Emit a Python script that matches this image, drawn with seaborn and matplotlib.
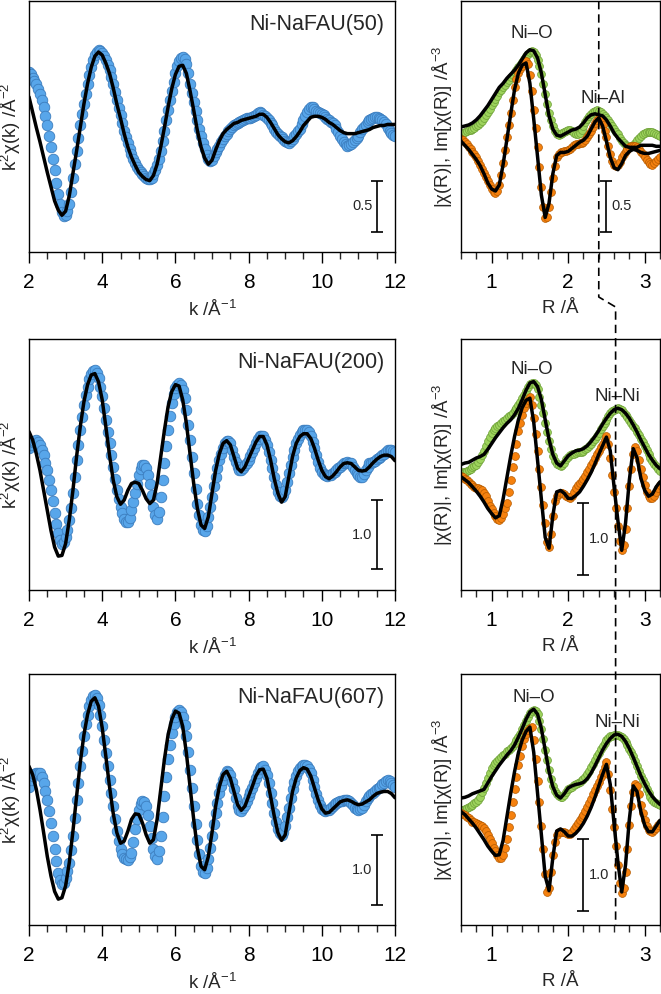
import numpy as np
import pandas as pd
import matplotlib
matplotlib.use("Agg")
import matplotlib.pyplot as plt
from matplotlib.ticker import MultipleLocator
from matplotlib.lines import Line2D
from matplotlib.transforms import blended_transform_factory
import seaborn as sns

# sampling grids: data points are denser than the fit curves
k_pts = np.round(np.arange(2.0, 12.001, 0.05), 3)
k_fit = np.round(np.arange(2.0, 12.001, 0.1), 2)
r_pts = np.round(np.arange(0.6, 3.2001, 0.025), 3)
r_fit = np.round(np.arange(0.6, 3.2001, 0.05), 2)

samples = ["Ni-NaFAU(50)", "Ni-NaFAU(200)", "Ni-NaFAU(607)"]
second_shell = ["Ni–Al", "Ni–Ni", "Ni–Ni"]
bar_size = [0.5, 1.0, 1.0]

# ---- k^2 chi(k): measured points ----
k_data_50 = [0.52, 0.50, 0.47, 0.44, 0.41, 0.36, 0.31, 0.25, 0.18, 0.09,
             0.00, -0.10, -0.21, -0.33, -0.44, -0.56, -0.67, -0.77, -0.85, -0.89,
             -0.88, -0.84, -0.77, -0.65, -0.51, -0.38, -0.25, -0.12, 0.00, 0.11,
             0.21, 0.31, 0.41, 0.49, 0.57, 0.64, 0.69, 0.72, 0.74, 0.73,
             0.71, 0.68, 0.64, 0.59, 0.54, 0.48, 0.41, 0.33, 0.25, 0.17,
             0.10, 0.02, -0.05, -0.11, -0.17, -0.23, -0.28, -0.33, -0.37, -0.41,
             -0.44, -0.46, -0.48, -0.50, -0.51, -0.52, -0.52, -0.51, -0.48, -0.44,
             -0.39, -0.33, -0.25, -0.15, -0.05, 0.05, 0.15, 0.25, 0.34, 0.43,
             0.51, 0.58, 0.63, 0.66, 0.67, 0.65, 0.60, 0.51, 0.41, 0.32,
             0.23, 0.14, 0.05, -0.03, -0.10, -0.17, -0.23, -0.29, -0.33, -0.35,
             -0.34, -0.30, -0.26, -0.23, -0.20, -0.16, -0.13, -0.10, -0.08, -0.05,
             -0.03, -0.01, 0.00, 0.01, 0.02, 0.03, 0.04, 0.05, 0.06, 0.07,
             0.07, 0.07, 0.08, 0.09, 0.10, 0.12, 0.13, 0.12, 0.10, 0.09,
             0.07, 0.05, 0.02, 0.00, -0.03, -0.06, -0.08, -0.10, -0.11, -0.13,
             -0.15, -0.16, -0.17, -0.15, -0.13, -0.10, -0.08, -0.05, -0.03, 0.01,
             0.05, 0.09, 0.13, 0.16, 0.18, 0.18, 0.16, 0.14, 0.13, 0.12,
             0.11, 0.10, 0.08, 0.06, 0.05, 0.03, 0.02, 0.00, -0.03, -0.06,
             -0.10, -0.13, -0.16, -0.18, -0.20, -0.19, -0.18, -0.16, -0.14, -0.12,
             -0.10, -0.06, -0.03, -0.01, 0.00, 0.03, 0.05, 0.06, 0.07, 0.08,
             0.08, 0.07, 0.06, 0.05, 0.03, 0.01, -0.02, -0.05, -0.07, -0.09,
             -0.10]
k_data_200 = [0.22, 0.27, 0.31, 0.33, 0.34, 0.31, 0.27, 0.20, 0.12, 0.01,
              -0.10, -0.24, -0.39, -0.55, -0.72, -0.87, -1.01, -1.10, -1.16, -1.14,
              -1.06, -0.96, -0.82, -0.64, -0.43, -0.19, 0.05, 0.27, 0.48, 0.67,
              0.85, 0.99, 1.11, 1.22, 1.30, 1.34, 1.35, 1.31, 1.23, 1.11,
              0.97, 0.80, 0.63, 0.46, 0.29, 0.12, -0.05, -0.22, -0.39, -0.52,
              -0.63, -0.72, -0.80, -0.84, -0.85, -0.79, -0.68, -0.56, -0.43, -0.30,
              -0.17, -0.08, -0.02, -0.02, -0.07, -0.16, -0.29, -0.46, -0.63, -0.75,
              -0.80, -0.70, -0.48, -0.24, 0.00, 0.25, 0.48, 0.69, 0.87, 1.00,
              1.09, 1.14, 1.16, 1.13, 1.06, 0.94, 0.77, 0.56, 0.34, 0.10,
              -0.14, -0.37, -0.58, -0.75, -0.89, -0.96, -0.97, -0.90, -0.77, -0.63,
              -0.48, -0.33, -0.19, -0.06, 0.05, 0.14, 0.22, 0.29, 0.33, 0.33,
              0.29, 0.20, 0.10, 0.02, -0.05, -0.09, -0.10, -0.07, -0.02, 0.01,
              0.05, 0.11, 0.17, 0.23, 0.29, 0.35, 0.39, 0.40, 0.39, 0.34,
              0.27, 0.17, 0.05, -0.07, -0.19, -0.31, -0.41, -0.47, -0.48, -0.45,
              -0.39, -0.27, -0.14, -0.02, 0.10, 0.20, 0.29, 0.36, 0.41, 0.45,
              0.48, 0.49, 0.48, 0.45, 0.39, 0.31, 0.22, 0.12, 0.02, -0.06,
              -0.12, -0.15, -0.17, -0.18, -0.17, -0.16, -0.14, -0.12, -0.10, -0.07,
              -0.05, -0.02, 0.00, 0.01, 0.02, 0.01, 0.00, -0.05, -0.10, -0.14,
              -0.17, -0.19, -0.19, -0.15, -0.10, -0.05, 0.00, 0.01, 0.02, 0.04,
              0.06, 0.08, 0.10, 0.12, 0.14, 0.17, 0.19, 0.20, 0.19, 0.18,
              0.17]
k_data_607 = [0.21, 0.30, 0.36, 0.39, 0.40, 0.41, 0.40, 0.34, 0.26, 0.15,
              0.02, -0.14, -0.31, -0.50, -0.69, -0.86, -1.02, -1.13, -1.19, -1.17,
              -1.10, -1.00, -0.88, -0.70, -0.50, -0.24, 0.02, 0.26, 0.50, 0.72,
              0.93, 1.10, 1.24, 1.36, 1.45, 1.50, 1.52, 1.47, 1.38, 1.24,
              1.07, 0.88, 0.69, 0.50, 0.31, 0.12, -0.07, -0.25, -0.43, -0.57,
              -0.69, -0.76, -0.81, -0.83, -0.84, -0.80, -0.74, -0.58, -0.40, -0.25,
              -0.12, -0.04, 0.00, -0.01, -0.07, -0.20, -0.36, -0.53, -0.69, -0.79,
              -0.83, -0.71, -0.50, -0.22, 0.07, 0.34, 0.60, 0.81, 0.98, 1.11,
              1.21, 1.28, 1.31, 1.28, 1.21, 1.09, 0.93, 0.70, 0.45, 0.19,
              -0.07, -0.32, -0.55, -0.76, -0.93, -1.01, -1.02, -0.95, -0.83, -0.67,
              -0.50, -0.33, -0.17, -0.02, 0.12, 0.22, 0.31, 0.38, 0.43, 0.42,
              0.38, 0.28, 0.17, 0.04, -0.07, -0.12, -0.14, -0.10, -0.05, 0.01,
              0.07, 0.13, 0.19, 0.26, 0.33, 0.40, 0.46, 0.49, 0.50, 0.45,
              0.38, 0.26, 0.12, -0.03, -0.17, -0.29, -0.40, -0.46, -0.48, -0.44,
              -0.36, -0.23, -0.10, 0.04, 0.17, 0.27, 0.36, 0.43, 0.48, 0.51,
              0.52, 0.52, 0.51, 0.46, 0.40, 0.31, 0.21, 0.11, 0.02, -0.05,
              -0.11, -0.13, -0.14, -0.13, -0.12, -0.10, -0.07, -0.04, -0.02, -0.01,
              0.00, 0.01, 0.02, 0.02, 0.02, 0.00, -0.02, -0.06, -0.10, -0.11,
              -0.12, -0.11, -0.10, -0.05, 0.00, 0.04, 0.07, 0.10, 0.12, 0.15,
              0.17, 0.19, 0.21, 0.24, 0.26, 0.29, 0.31, 0.29, 0.26, 0.23,
              0.21]

# ---- k^2 chi(k): fits ----
k_fit_50 = [0.28, 0.13, -0.02, -0.16, -0.31, -0.46, -0.60, -0.74, -0.83, -0.88,
            -0.84, -0.69, -0.47, -0.25, -0.02, 0.21, 0.41, 0.57, 0.68, 0.72,
            0.69, 0.61, 0.51, 0.37, 0.21, 0.07, -0.08, -0.21, -0.31, -0.39,
            -0.46, -0.50, -0.53, -0.54, -0.49, -0.38, -0.21, -0.02, 0.18, 0.36,
            0.50, 0.58, 0.59, 0.51, 0.34, 0.15, -0.05, -0.21, -0.32, -0.38,
            -0.34, -0.24, -0.15, -0.08, -0.04, -0.01, 0.02, 0.03, 0.05, 0.06,
            0.07, 0.08, 0.09, 0.11, 0.11, 0.08, 0.03, -0.03, -0.09, -0.13,
            -0.16, -0.17, -0.15, -0.11, -0.06, 0.00, 0.04, 0.08, 0.09, 0.09,
            0.08, 0.06, 0.03, 0.01, -0.02, -0.05, -0.07, -0.08, -0.08, -0.08,
            -0.07, -0.06, -0.05, -0.04, -0.02, -0.01, 0.00, 0.00, 0.01, 0.01,
            0.01]
k_fit_200 = [0.46, 0.34, 0.14, -0.10, -0.39, -0.68, -0.97, -1.21, -1.34, -1.33,
             -1.16, -0.82, -0.39, 0.10, 0.53, 0.89, 1.14, 1.28, 1.30, 1.18,
             0.92, 0.53, 0.12, -0.24, -0.48, -0.59, -0.53, -0.39, -0.29, -0.27,
             -0.29, -0.39, -0.51, -0.58, -0.53, -0.29, 0.10, 0.48, 0.82, 1.04,
             1.14, 1.12, 0.92, 0.58, 0.14, -0.29, -0.65, -0.89, -0.94, -0.77,
             -0.43, -0.10, 0.14, 0.29, 0.33, 0.27, 0.10, -0.07, -0.12, -0.05,
             0.07, 0.19, 0.31, 0.39, 0.39, 0.27, 0.05, -0.22, -0.43, -0.56,
             -0.48, -0.19, 0.10, 0.29, 0.39, 0.43, 0.43, 0.36, 0.22, 0.05,
             -0.10, -0.19, -0.22, -0.18, -0.12, -0.05, 0.00, 0.01, 0.00, -0.05,
             -0.10, -0.11, -0.10, -0.05, 0.01, 0.06, 0.10, 0.12, 0.12, 0.10,
             0.04]
k_fit_607 = [0.50, 0.38, 0.17, -0.12, -0.45, -0.79, -1.07, -1.29, -1.40, -1.38,
             -1.21, -0.88, -0.43, 0.07, 0.55, 0.95, 1.24, 1.43, 1.48, 1.36,
             1.05, 0.64, 0.21, -0.17, -0.45, -0.60, -0.57, -0.43, -0.26, -0.18,
             -0.19, -0.31, -0.48, -0.60, -0.55, -0.26, 0.17, 0.60, 0.95, 1.17,
             1.29, 1.26, 1.07, 0.69, 0.21, -0.26, -0.67, -0.93, -0.98, -0.79,
             -0.45, -0.07, 0.21, 0.38, 0.43, 0.33, 0.14, -0.05, -0.13, -0.07,
             0.07, 0.21, 0.36, 0.45, 0.46, 0.33, 0.07, -0.21, -0.45, -0.56,
             -0.48, -0.17, 0.14, 0.33, 0.44, 0.48, 0.46, 0.36, 0.19, 0.02,
             -0.11, -0.17, -0.16, -0.11, -0.06, -0.01, 0.01, 0.02, 0.00, -0.03,
             -0.05, -0.04, -0.01, 0.02, 0.07, 0.11, 0.13, 0.14, 0.14, 0.11,
             0.05]

# ---- |chi(R)| and Im[chi(R)]: measured points ----
mag_data_50 = [0.11, 0.11, 0.12, 0.13, 0.14, 0.14, 0.15, 0.16, 0.18, 0.19,
               0.21, 0.23, 0.26, 0.29, 0.32, 0.35, 0.39, 0.42, 0.45, 0.48,
               0.51, 0.53, 0.56, 0.58, 0.61, 0.63, 0.66, 0.68, 0.71, 0.73,
               0.76, 0.78, 0.81, 0.84, 0.87, 0.89, 0.91, 0.92, 0.91, 0.88,
               0.83, 0.77, 0.69, 0.59, 0.49, 0.40, 0.31, 0.24, 0.18, 0.13,
               0.10, 0.09, 0.10, 0.11, 0.12, 0.13, 0.14, 0.14, 0.13, 0.11,
               0.10, 0.10, 0.11, 0.14, 0.18, 0.22, 0.25, 0.28, 0.30, 0.32,
               0.33, 0.34, 0.33, 0.32, 0.30, 0.28, 0.26, 0.24, 0.21, 0.18,
               0.15, 0.12, 0.10, 0.06, 0.03, 0.01, -0.01, -0.02, -0.03, -0.02,
               -0.01, 0.01, 0.04, 0.06, 0.08, 0.10, 0.11, 0.12, 0.12, 0.12,
               0.12, 0.11, 0.10, 0.09, 0.08]
im_data_50 = [0.05, 0.04, 0.02, 0.00, -0.03, -0.05, -0.08, -0.10, -0.13, -0.16,
              -0.20, -0.24, -0.28, -0.32, -0.36, -0.40, -0.44, -0.47, -0.48, -0.46,
              -0.40, -0.30, -0.18, -0.06, 0.07, 0.19, 0.31, 0.44, 0.56, 0.64,
              0.70, 0.74, 0.77, 0.80, 0.82, 0.79, 0.68, 0.52, 0.34, 0.16,
              -0.03, -0.22, -0.42, -0.62, -0.73, -0.72, -0.62, -0.47, -0.33, -0.21,
              -0.13, -0.10, -0.08, -0.08, -0.07, -0.07, -0.06, -0.05, -0.03, -0.01,
              0.00, 0.00, 0.01, 0.01, 0.02, 0.04, 0.07, 0.10, 0.13, 0.17,
              0.21, 0.24, 0.26, 0.24, 0.19, 0.13, 0.07, -0.02, -0.10, -0.16,
              -0.20, -0.21, -0.20, -0.17, -0.13, -0.10, -0.07, -0.05, -0.03, -0.02,
              -0.02, -0.02, -0.03, -0.05, -0.08, -0.10, -0.13, -0.15, -0.17, -0.19,
              -0.20, -0.18, -0.16, -0.14, -0.13]
mag_data_200 = [0.04, 0.05, 0.06, 0.07, 0.08, 0.10, 0.12, 0.14, 0.16, 0.19,
                0.23, 0.29, 0.35, 0.42, 0.48, 0.54, 0.60, 0.64, 0.67, 0.69,
                0.71, 0.74, 0.76, 0.78, 0.81, 0.83, 0.85, 0.88, 0.92, 0.95,
                0.99, 1.03, 1.08, 1.13, 1.18, 1.23, 1.27, 1.29, 1.29, 1.26,
                1.20, 1.10, 0.99, 0.87, 0.74, 0.61, 0.48, 0.37, 0.28, 0.21,
                0.17, 0.15, 0.14, 0.15, 0.18, 0.23, 0.27, 0.29, 0.30, 0.31,
                0.32, 0.33, 0.34, 0.34, 0.35, 0.37, 0.39, 0.42, 0.45, 0.48,
                0.52, 0.56, 0.60, 0.65, 0.69, 0.74, 0.78, 0.83, 0.87, 0.90,
                0.92, 0.93, 0.94, 0.93, 0.91, 0.88, 0.85, 0.82, 0.78, 0.74,
                0.70, 0.66, 0.61, 0.57, 0.52, 0.47, 0.42, 0.36, 0.30, 0.25,
                0.21, 0.17, 0.14, 0.10, 0.07]
im_data_200 = [0.00, -0.02, -0.04, -0.06, -0.08, -0.11, -0.13, -0.15, -0.16, -0.17,
               -0.18, -0.20, -0.23, -0.28, -0.35, -0.41, -0.46, -0.51, -0.55, -0.59,
               -0.61, -0.58, -0.52, -0.45, -0.37, -0.22, -0.05, 0.12, 0.28, 0.45,
               0.62, 0.74, 0.85, 0.95, 1.01, 1.06, 1.09, 0.98, 0.80, 0.58,
               0.35, 0.10, -0.15, -0.40, -0.65, -0.92, -0.99, -0.80, -0.55, -0.35,
               -0.27, -0.25, -0.24, -0.24, -0.25, -0.27, -0.29, -0.30, -0.27, -0.22,
               -0.17, -0.13, -0.10, -0.07, -0.04, 0.00, 0.05, 0.10, 0.15, 0.20,
               0.25, 0.30, 0.35, 0.40, 0.45, 0.50, 0.55, 0.45, 0.25, 0.02,
               -0.22, -0.45, -0.69, -0.90, -1.03, -0.95, -0.74, -0.45, -0.14, 0.10,
               0.30, 0.40, 0.35, 0.22, 0.10, -0.02, -0.12, -0.22, -0.28, -0.31,
               -0.31, -0.27, -0.22, -0.16, -0.12]
mag_data_607 = [0.04, 0.05, 0.06, 0.07, 0.08, 0.10, 0.12, 0.14, 0.16, 0.19,
                0.23, 0.29, 0.35, 0.42, 0.49, 0.56, 0.63, 0.67, 0.70, 0.73,
                0.76, 0.78, 0.81, 0.83, 0.86, 0.88, 0.91, 0.94, 0.98, 1.02,
                1.06, 1.11, 1.17, 1.23, 1.29, 1.34, 1.39, 1.42, 1.44, 1.43,
                1.38, 1.29, 1.17, 1.03, 0.88, 0.74, 0.60, 0.48, 0.38, 0.31,
                0.26, 0.24, 0.23, 0.23, 0.25, 0.29, 0.33, 0.35, 0.37, 0.39,
                0.41, 0.42, 0.44, 0.46, 0.48, 0.51, 0.55, 0.59, 0.64, 0.69,
                0.74, 0.79, 0.84, 0.89, 0.94, 0.98, 1.02, 1.05, 1.07, 1.08,
                1.09, 1.09, 1.09, 1.08, 1.06, 1.03, 0.99, 0.95, 0.90, 0.85,
                0.79, 0.73, 0.66, 0.59, 0.52, 0.46, 0.40, 0.34, 0.28, 0.23,
                0.19, 0.16, 0.14, 0.13, 0.12]
im_data_607 = [0.00, -0.01, -0.02, -0.05, -0.07, -0.10, -0.12, -0.13, -0.14, -0.15,
               -0.16, -0.18, -0.21, -0.25, -0.30, -0.36, -0.42, -0.48, -0.53, -0.58,
               -0.62, -0.63, -0.58, -0.48, -0.36, -0.20, -0.02, 0.16, 0.33, 0.50,
               0.67, 0.80, 0.93, 1.03, 1.11, 1.16, 1.19, 1.20, 1.02, 0.75,
               0.45, 0.15, -0.18, -0.50, -0.85, -1.10, -1.05, -0.82, -0.58, -0.40,
               -0.30, -0.27, -0.26, -0.26, -0.27, -0.28, -0.29, -0.29, -0.27, -0.22,
               -0.18, -0.14, -0.10, -0.06, -0.02, 0.03, 0.08, 0.14, 0.20, 0.26,
               0.32, 0.38, 0.44, 0.51, 0.58, 0.65, 0.71, 0.55, 0.32, 0.06,
               -0.20, -0.46, -0.72, -0.97, -1.12, -1.05, -0.82, -0.50, -0.17, 0.10,
               0.30, 0.41, 0.38, 0.26, 0.12, 0.00, -0.10, -0.18, -0.23, -0.25,
               -0.26, -0.24, -0.21, -0.17, -0.14]

# ---- |chi(R)| and Im[chi(R)]: fits ----
mag_fit_50 = [0.17, 0.18, 0.19, 0.21, 0.24, 0.28, 0.33, 0.38, 0.44, 0.50,
              0.56, 0.60, 0.65, 0.69, 0.73, 0.78, 0.84, 0.90, 0.93, 0.92,
              0.85, 0.70, 0.49, 0.28, 0.15, 0.09, 0.08, 0.10, 0.12, 0.14,
              0.15, 0.17, 0.21, 0.26, 0.29, 0.30, 0.29, 0.28, 0.24, 0.18,
              0.11, 0.06, 0.02, -0.02, -0.03, -0.03, -0.03, -0.01, -0.01, -0.01,
              -0.01, -0.02, -0.02]
im_fit_50 = [0.03, -0.01, -0.05, -0.10, -0.15, -0.21, -0.29, -0.38, -0.44, -0.46,
             -0.40, -0.20, 0.05, 0.30, 0.54, 0.70, 0.78, 0.80, 0.60, 0.25,
             -0.12, -0.50, -0.72, -0.58, -0.29, -0.11, -0.08, -0.08, -0.07, -0.04,
             -0.01, 0.02, 0.04, 0.08, 0.15, 0.22, 0.26, 0.18, 0.03, -0.13,
             -0.23, -0.25, -0.19, -0.11, -0.07, -0.05, -0.06, -0.08, -0.09, -0.09,
             -0.08, -0.07, -0.06]
mag_fit_200 = [0.16, 0.18, 0.19, 0.22, 0.25, 0.27, 0.30, 0.37, 0.45, 0.53,
               0.60, 0.67, 0.73, 0.78, 0.85, 0.94, 1.06, 1.19, 1.29, 1.31,
               1.24, 1.06, 0.78, 0.51, 0.30, 0.18, 0.14, 0.21, 0.28, 0.32,
               0.35, 0.36, 0.38, 0.42, 0.48, 0.55, 0.63, 0.72, 0.80, 0.87,
               0.92, 0.94, 0.92, 0.87, 0.80, 0.71, 0.61, 0.50, 0.40, 0.30,
               0.22, 0.15, 0.10]
im_fit_200 = [-0.01, -0.05, -0.09, -0.15, -0.21, -0.28, -0.36, -0.45, -0.52, -0.58,
              -0.55, -0.32, -0.02, 0.28, 0.55, 0.78, 0.95, 1.05, 1.08, 0.75,
              0.22, -0.32, -0.85, -1.00, -0.55, -0.22, -0.20, -0.24, -0.31, -0.31,
              -0.27, -0.22, -0.14, -0.05, 0.05, 0.17, 0.30, 0.42, 0.54, 0.35,
              -0.15, -0.62, -1.03, -0.65, -0.05, 0.38, 0.25, -0.03, -0.20, -0.28,
              -0.25, -0.15, -0.08]
mag_fit_607 = [0.21, 0.22, 0.24, 0.27, 0.29, 0.31, 0.33, 0.42, 0.51, 0.59,
               0.67, 0.74, 0.81, 0.87, 0.95, 1.06, 1.18, 1.31, 1.41, 1.45,
               1.38, 1.18, 0.88, 0.58, 0.37, 0.25, 0.21, 0.27, 0.35, 0.38,
               0.40, 0.41, 0.43, 0.48, 0.56, 0.66, 0.77, 0.88, 0.97, 1.04,
               1.09, 1.10, 1.07, 1.00, 0.90, 0.78, 0.65, 0.52, 0.41, 0.31,
               0.23, 0.17, 0.12]
im_fit_607 = [0.02, -0.02, -0.08, -0.14, -0.21, -0.29, -0.37, -0.46, -0.53, -0.59,
              -0.58, -0.38, -0.05, 0.28, 0.58, 0.84, 1.02, 1.14, 1.20, 0.85,
              0.28, -0.30, -0.88, -1.08, -0.62, -0.25, -0.22, -0.26, -0.32, -0.32,
              -0.28, -0.22, -0.14, -0.04, 0.08, 0.22, 0.38, 0.54, 0.68, 0.40,
              -0.15, -0.68, -1.10, -0.72, -0.08, 0.38, 0.30, 0.02, -0.17, -0.26,
              -0.26, -0.18, -0.10]

k_sets = [(k_data_50, k_fit_50), (k_data_200, k_fit_200), (k_data_607, k_fit_607)]
r_sets = [(mag_data_50, im_data_50, mag_fit_50, im_fit_50),
          (mag_data_200, im_data_200, mag_fit_200, im_fit_200),
          (mag_data_607, im_data_607, mag_fit_607, im_fit_607)]

# layout / cosmetics
k_ylims = [(-1.24, 1.22), (-1.83, 1.80), (-1.77, 1.82)]
r_ylims = [(-1.06, 1.41), (-1.58, 1.90), (-1.56, 1.94)]
k_bar_bottom = [-1.04, -1.53, -1.48]
r_bar_x = [2.50, 2.20, 2.20]
r_bar_bottom = [-0.86, -1.37, -1.36]
label_y = [(0.87, 0.61), (0.88, 0.77), (0.905, 0.805)]
label_r = [(1.52, 2.45), (1.53, 2.64), (1.55, 2.64)]
dash_r = [2.40, 2.62]

BLUE, BLUE_EDGE = "#58A6EA", "#3C7DBE"
GREEN, GREEN_EDGE = "#9DD35C", "#6C9E36"
ORANGE, ORANGE_EDGE = "#F5810F", "#B55B00"

sns.set_style("ticks")
plt.rcParams["font.family"] = ["Liberation Sans", "DejaVu Sans"]
plt.rcParams["mathtext.fontset"] = "custom"
plt.rcParams["mathtext.rm"] = "Liberation Sans"
plt.rcParams["mathtext.it"] = "Liberation Sans:italic"
plt.rcParams["axes.edgecolor"] = "black"
plt.rcParams["axes.linewidth"] = 1.0

W, H = 661, 994
fig = plt.figure(figsize=(W / 100, H / 100), dpi=100)
row_px = [(1, 252), (339, 590), (674, 925)]


def style_axis(ax):
    ax.set_yticks([])
    ax.tick_params(axis="x", which="major", direction="out", length=8, width=1.0,
                   pad=7, labelsize=15, colors="black")
    ax.tick_params(axis="x", which="minor", direction="out", length=5, width=1.0)
    for s in ax.spines.values():
        s.set_visible(True)
        s.set_color("black")


def draw_scale_bar(ax, x, bottom, size, label, side):
    ax.errorbar([x], [bottom + size / 2], yerr=[size / 2], fmt="none", ecolor="black",
                elinewidth=1.2, capsize=4, capthick=1.2)
    if side == "left":
        ax.text(x - 0.12, bottom + size / 2, label, ha="right", va="center", fontsize=10.5)
    else:
        ax.text(x + 0.07, bottom + size / 2, label, ha="left", va="center", fontsize=10.5)


k_axes, r_axes = [], []
for i in range(3):
    top, bot = row_px[i]
    y0 = 1 - bot / H
    h = (bot - top) / H

    # k-space panel
    ax = fig.add_axes([29 / W, y0, 366 / W, h])
    pts = pd.DataFrame({"k": k_pts, "chi": k_sets[i][0]})
    fit = pd.DataFrame({"k": k_fit, "chi": k_sets[i][1]})
    sns.scatterplot(data=pts, x="k", y="chi", ax=ax, s=58, color=BLUE,
                    edgecolor=BLUE_EDGE, linewidth=0.6, zorder=2)
    sns.lineplot(data=fit, x="k", y="chi", ax=ax, color="black", linewidth=2.5, zorder=3)
    ax.set_xlim(2, 12)
    ax.set_ylim(*k_ylims[i])
    ax.xaxis.set_major_locator(MultipleLocator(2))
    ax.xaxis.set_minor_locator(MultipleLocator(0.5))
    style_axis(ax)
    ax.set_xlabel("k /Å$^{-1}$", fontsize=13.5, labelpad=6)
    ax.set_ylabel("k$^{2}$χ(k) /Å$^{-2}$", fontsize=13.5, labelpad=4)
    ax.text(0.97, 0.905, samples[i], transform=ax.transAxes, ha="right",
            va="center", fontsize=15.5)
    draw_scale_bar(ax, 11.5, k_bar_bottom[i], bar_size[i], f"{bar_size[i]:.1f}", "left")
    k_axes.append(ax)

    # R-space panel
    ax = fig.add_axes([461 / W, y0, 199 / W, h])
    mag_d, im_d, mag_f, im_f = r_sets[i]
    pts = pd.DataFrame({"R": r_pts, "mag": mag_d, "im": im_d})
    fit = pd.DataFrame({"R": r_fit, "mag": mag_f, "im": im_f})
    sns.scatterplot(data=pts, x="R", y="mag", ax=ax, s=32, color=GREEN,
                    edgecolor=GREEN_EDGE, linewidth=0.5, zorder=2)
    sns.scatterplot(data=pts, x="R", y="im", ax=ax, s=32, color=ORANGE,
                    edgecolor=ORANGE_EDGE, linewidth=0.5, zorder=2)
    sns.lineplot(data=fit, x="R", y="mag", ax=ax, color="black", linewidth=2.5, zorder=3)
    sns.lineplot(data=fit, x="R", y="im", ax=ax, color="black", linewidth=2.5, zorder=3)
    ax.set_xlim(0.6, 3.2)
    ax.set_ylim(*r_ylims[i])
    ax.xaxis.set_major_locator(MultipleLocator(1))
    ax.xaxis.set_minor_locator(MultipleLocator(0.2))
    style_axis(ax)
    ax.set_xlabel("R /Å", fontsize=13.5, labelpad=6)
    ax.set_ylabel("|χ(R)|, Im[χ(R)] /Å$^{-3}$", fontsize=13.5, labelpad=4)
    tr = blended_transform_factory(ax.transData, ax.transAxes)
    ax.text(label_r[i][0], label_y[i][0], "Ni–O", transform=tr, ha="center",
            va="center", fontsize=13.5, zorder=5)
    ax.text(label_r[i][1], label_y[i][1], second_shell[i], transform=tr, ha="center",
            va="center", fontsize=13.5, zorder=5)
    draw_scale_bar(ax, r_bar_x[i], r_bar_bottom[i], bar_size[i], f"{bar_size[i]:.1f}", "right")
    r_axes.append(ax)

# dashed guide line running through the R-space panels
trans = blended_transform_factory(r_axes[0].transData, fig.transFigure)
guide = Line2D([dash_r[0], dash_r[0], dash_r[1], dash_r[1]],
               [r_axes[0].get_position().y1, 1 - 297 / H, 1 - 307 / H,
                r_axes[2].get_position().y0],
               transform=trans, color="black", linewidth=1.2,
               linestyle=(0, (5, 3)), zorder=10)
fig.add_artist(guide)

fig.savefig("out.png", dpi=100)
